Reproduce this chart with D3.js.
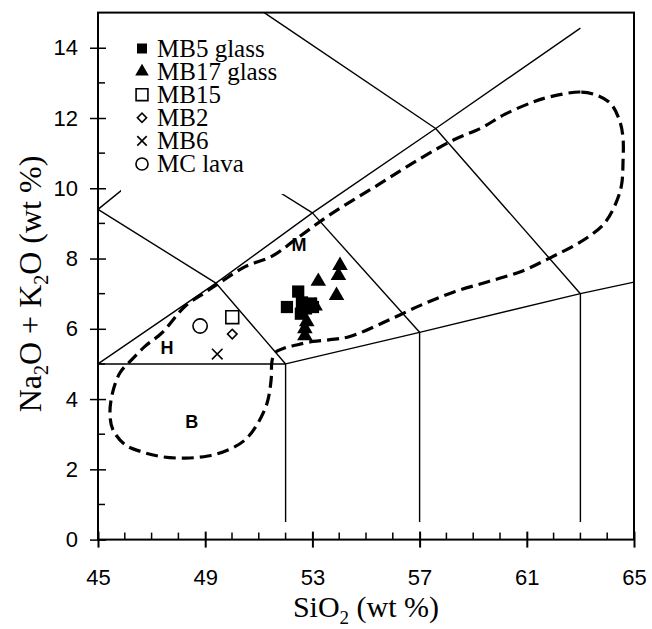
<!DOCTYPE html>
<html lang="en">
<head>
  <meta charset="UTF-8">
  <title>TAS diagram</title>
  <script src="https://d3js.org/d3.v7.min.js"></script>
  <style>
    body { margin: 0; background: #fff; }
    .tick-label { font: 22px "Liberation Sans", Arial, sans-serif; fill: #000; }
    .axis-title { font: 30px "Liberation Serif", "Times New Roman", serif; fill: #000; }
    .legend text { font: 25px "Liberation Serif", "Times New Roman", serif; fill: #000; }
    .field { font: bold 18px "Liberation Sans", Arial, sans-serif; fill: #000; }
  </style>
</head>
<body>
  <svg id="chart" width="652" height="629"></svg>

  <script>
    // SiO2 / total alkali samples
    const mb5Glass  = [[52.47, 7.06], [52.05, 6.62], [52.61, 6.75], [52.57, 6.43], [52.76, 6.58], [52.95, 6.72], [53.02, 6.62]];
    const mb17Glass = [[53.22, 7.35], [54.03, 7.80], [53.97, 7.52], [53.90, 6.95], [52.72, 6.00], [52.72, 5.80], [52.79, 6.20], [53.10, 6.65]];
    const mb15 = [[50.01, 6.33]];
    const mb2  = [[50.01, 5.85]];
    const mb6  = [[49.45, 5.28]];
    const mcLava = [[48.81, 6.08]];

    // TAS boundary segments
    const tasLines = [
      [[45, 5], [52, 5]],
      [[52, 5], [57, 5.9], [63, 7], [65, 7.33]],
      [[45, 5], [49.4, 7.3], [53, 9.3], [57.6, 11.7], [63, 14.56]],
      [[45, 9.4], [49.4, 7.3], [52, 5]],
      [[53, 9.3], [57, 5.9]],
      [[57.6, 11.7], [63, 7]],
      [[57.6, 11.7], [51.2, 15]],
      [[45, 9.4], [48.4, 11.5]],
      [[48.4, 11.5], [53, 9.3]],
      [[52, 5], [52, 0.5]],
      [[57, 5.9], [57, 0.5]],
      [[63, 7], [63, 0.5]]
    ];

    // outline of the dashed field
    const fieldOutline = [
      [63.64, 12.64], [63.0, 12.74], [61.85, 12.6], [61.22, 12.45], [60.19, 12.11], [59.31, 11.72],
      [58.28, 11.38], [57.01, 10.84], [55.52, 10.13], [53.66, 9.25], [52.35, 8.53], [51.48, 8.06],
      [50.49, 7.77], [49.62, 7.35], [48.99, 7.03], [48.25, 6.64], [47.38, 5.88], [46.75, 5.5],
      [46.26, 5.12], [45.82, 4.75], [45.51, 4.07], [45.45, 3.5], [45.56, 3.12], [46.01, 2.7],
      [46.63, 2.5], [47.38, 2.36], [48.25, 2.32], [49.1, 2.38], [49.85, 2.55], [50.49, 2.84],
      [50.97, 3.32], [51.31, 3.89], [51.46, 4.55], [51.49, 5.07], [51.6, 5.32], [51.98, 5.46],
      [52.41, 5.54], [53.02, 5.64], [53.66, 5.69], [54.4, 5.78], [55.71, 6.2], [57.01, 6.66],
      [58.28, 7.05], [59.55, 7.34], [60.82, 7.64], [61.87, 8.02], [62.75, 8.36], [63.38, 8.66],
      [63.88, 8.99], [64.27, 9.48], [64.53, 10.07], [64.59, 10.75], [64.59, 11.43], [64.47, 11.91],
      [64.14, 12.4]
    ];

    const fieldLabels = [["M", 52.5, 8.4], ["H", 47.57, 5.47], ["B", 48.5, 3.37]];

    const xMajor = [45, 49, 53, 57, 61, 65];
    const xMinor = d3.range(45, 66, 1);
    const yMajor = [0, 2, 4, 6, 8, 10, 12, 14];
    const yMinor = d3.range(0, 16, 1);

    const legendItems = ["MB5 glass", "MB17 glass", "MB15", "MB2", "MB6", "MC lava"];

    const svg = d3.select("#chart");
    const x = d3.scaleLinear().domain([45, 65]).range([98, 634]);
    const y = d3.scaleLinear().domain([0, 15]).range([539.6, 12.6]);

    // TAS lines
    const line = d3.line().x(d => x(d[0])).y(d => y(d[1]));
    svg.append("g").selectAll("path")
      .data(tasLines)
      .enter().append("path")
      .attr("d", line)
      .attr("fill", "none")
      .attr("stroke", "#000")
      .attr("stroke-width", 1.4);

    // dashed field
    svg.append("path")
      .datum(fieldOutline)
      .attr("d", line.curve(d3.curveCatmullRomClosed))
      .attr("fill", "none")
      .attr("stroke", "#000")
      .attr("stroke-width", 3.2)
      .attr("stroke-dasharray", "12,6");

    // field labels
    svg.append("g").selectAll("text")
      .data(fieldLabels)
      .enter().append("text")
      .attr("class", "field")
      .attr("x", d => x(d[1]))
      .attr("y", d => y(d[2]))
      .attr("text-anchor", "middle")
      .attr("dy", "0.35em")
      .text(d => d[0]);

    // markers
    const symbols = [
      { data: mb5Glass, type: d3.symbolSquare, size: 150, fill: "#000", stroke: "none", rot: 0, lsize: 100 },
      { data: mb17Glass, type: d3.symbolTriangle, size: 105, fill: "#000", stroke: "none", rot: 0, lsize: 80 },
      { data: mb15, type: d3.symbolSquare, size: 165, fill: "#fff", stroke: "#000", rot: 0, lsize: 140 },
      { data: mb2, type: d3.symbolSquare, size: 45, fill: "#fff", stroke: "#000", rot: 45, lsize: 42 },
      { data: mb6, type: d3.symbolX, size: 75, fill: "none", stroke: "#000", rot: 0, lsize: 60 },
      { data: mcLava, type: d3.symbolCircle, size: 160, fill: "#fff", stroke: "#000", rot: 0, lsize: 115 }
    ];

    symbols.forEach(s => {
      svg.append("g").selectAll("path")
        .data(s.data)
        .enter().append("path")
        .attr("d", d3.symbol().type(s.type).size(s.size))
        .attr("transform", d => `translate(${x(d[0])},${y(d[1])}) rotate(${s.rot})`)
        .attr("fill", s.fill)
        .attr("stroke", s.stroke)
        .attr("stroke-width", 1.6);
    });

    // legend (white box hides lines behind it)
    const legend = svg.append("g").attr("class", "legend");
    legend.append("rect")
      .attr("x", 121).attr("y", 30)
      .attr("width", 164).attr("height", 164)
      .attr("fill", "#fff");

    legendItems.forEach((name, i) => {
      const s = symbols[i];
      const cy = 48.5 + i * 23.1;
      legend.append("path")
        .attr("d", d3.symbol().type(s.type).size(s.lsize))
        .attr("transform", `translate(142,${cy}) rotate(${s.rot})`)
        .attr("fill", s.fill)
        .attr("stroke", s.stroke)
        .attr("stroke-width", 1.6);
      legend.append("text")
        .attr("x", 157)
        .attr("y", cy)
        .attr("dy", "0.33em")
        .text(name);
    });

    // frame
    svg.append("rect")
      .attr("x", x(45)).attr("y", y(15))
      .attr("width", x(65) - x(45)).attr("height", y(0) - y(15))
      .attr("fill", "none")
      .attr("stroke", "#000")
      .attr("stroke-width", 2);

    // x axis
    const xAxis = svg.append("g")
      .attr("transform", `translate(0,${y(0)})`)
      .call(d3.axisBottom(x).tickValues(xMajor).tickSize(8).tickPadding(22).tickFormat(d3.format("d")));
    xAxis.select(".domain").remove();
    xAxis.selectAll(".tick line").attr("y1", -8).attr("stroke-width", 2);
    xAxis.selectAll(".tick text").attr("class", "tick-label").attr("font-size", null).attr("font-family", null);
    svg.append("g").selectAll("line")
      .data(xMinor.filter(v => !xMajor.includes(v)))
      .enter().append("line")
      .attr("x1", d => x(d)).attr("x2", d => x(d))
      .attr("y1", y(0)).attr("y2", y(0) - 7)
      .attr("stroke", "#000").attr("stroke-width", 1.5);

    // y axis
    const yAxis = svg.append("g")
      .attr("transform", `translate(${x(45)},0)`)
      .call(d3.axisLeft(y).tickValues(yMajor).tickSize(8).tickPadding(12).tickFormat(d3.format("d")));
    yAxis.select(".domain").remove();
    yAxis.selectAll(".tick line").attr("x1", 8).attr("stroke-width", 1.5);
    yAxis.selectAll(".tick text").attr("class", "tick-label").attr("font-size", null).attr("font-family", null);
    svg.append("g").selectAll("line")
      .data(yMinor.filter(v => !yMajor.includes(v) && v < 15))
      .enter().append("line")
      .attr("x1", x(45)).attr("x2", x(45) + 7)
      .attr("y1", d => y(d)).attr("y2", d => y(d))
      .attr("stroke", "#000").attr("stroke-width", 1.5);

    // axis titles
    const xt = svg.append("text")
      .attr("class", "axis-title")
      .attr("x", 366).attr("y", 617)
      .attr("text-anchor", "middle");
    xt.append("tspan").text("SiO");
    xt.append("tspan").attr("font-size", 19).attr("dy", 7).text("2");
    xt.append("tspan").attr("dy", -7).text(" (wt %)");

    const yt = svg.append("text")
      .attr("class", "axis-title")
      .attr("font-size", 32)
      .style("font-size", "32px")
      .attr("transform", "translate(41,284) rotate(-90)")
      .attr("text-anchor", "middle");
    yt.append("tspan").text("Na");
    yt.append("tspan").attr("font-size", 20).style("font-size", "20px").attr("dy", 7).text("2");
    yt.append("tspan").attr("dy", -7).text("O + K");
    yt.append("tspan").attr("font-size", 20).style("font-size", "20px").attr("dy", 7).text("2");
    yt.append("tspan").attr("dy", -7).text("O (wt %)");
  </script>
</body>
</html>
